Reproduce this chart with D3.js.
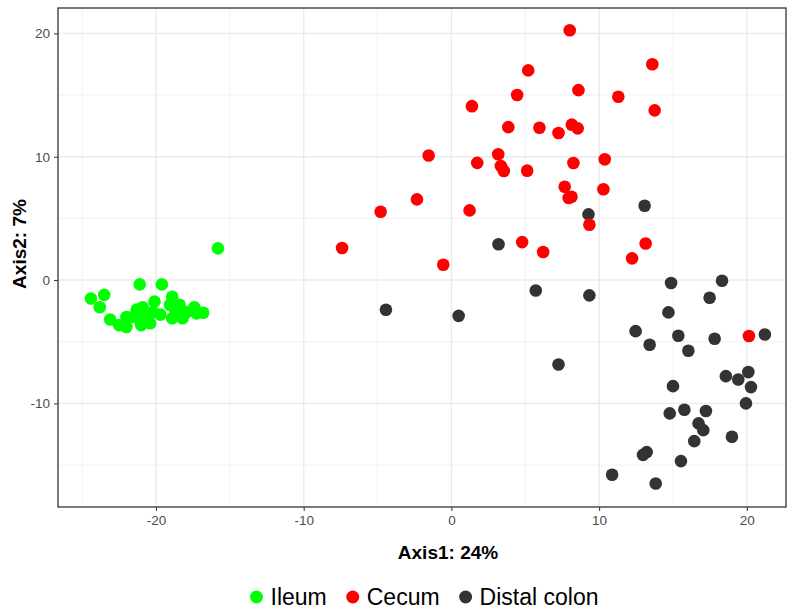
<!DOCTYPE html>
<html>
<head>
<meta charset="utf-8">
<script src="https://cdn.jsdelivr.net/npm/d3@7"></script>
<style>
  html, body { margin: 0; padding: 0; background: #fff; }
  svg { display: block; font-family: "Liberation Sans", Arial, sans-serif; }
</style>
</head>
<body>
<svg id="chart" width="788" height="611"></svg>
<script>
// PCoA scores: [Axis1, Axis2]
const ileum = [
  [-15.8, 2.57], [-21.1, -0.35], [-19.6, -0.35], [-24.4, -1.5], [-23.5, -1.2],
  [-23.8, -2.2], [-23.1, -3.2], [-22.5, -3.65], [-22.0, -3.8], [-22.0, -3.0],
  [-21.3, -2.4], [-21.1, -3.2], [-20.6, -3.0], [-20.4, -3.5], [-20.1, -1.75],
  [-20.2, -2.6], [-19.7, -2.8], [-18.9, -1.35], [-19.05, -2.0], [-18.7, -2.4],
  [-18.9, -3.1], [-18.4, -2.0], [-18.2, -3.1], [-17.9, -2.6], [-17.4, -2.2],
  [-17.25, -2.7], [-16.8, -2.65], [-20.9, -2.2], [-21.6, -3.0], [-21.0, -3.65]
];
const cecum = [
  [8.01, 20.25], [13.6, 17.5], [5.2, 17.0], [8.6, 15.4], [4.45, 15.0],
  [11.3, 14.87], [1.39, 14.1], [13.76, 13.76], [3.85, 12.4], [5.96, 12.35],
  [7.25, 11.92], [8.15, 12.6], [8.55, 12.3], [-1.54, 10.1], [3.17, 10.2],
  [10.38, 9.79], [1.75, 9.5], [8.26, 9.49], [3.35, 9.25], [3.55, 8.85],
  [5.13, 8.87], [7.67, 7.57], [7.94, 6.65], [8.13, 6.76], [10.29, 7.36],
  [-2.33, 6.54], [-4.79, 5.54], [1.23, 5.65], [9.34, 4.49], [4.79, 3.08],
  [13.15, 2.97], [-7.4, 2.6], [6.21, 2.27], [12.23, 1.76], [-0.55, 1.24],
  [20.14, -4.54]
];
const distalColon = [
  [3.19, 2.9], [5.71, -0.84], [9.28, 5.33], [13.08, 6.03], [14.87, -0.24],
  [18.32, -0.05], [9.34, -1.24], [17.48, -1.43], [14.69, -2.62], [12.47, -4.14],
  [15.36, -4.51], [13.42, -5.24], [17.82, -4.76], [21.22, -4.41], [16.04, -5.73],
  [7.25, -6.84], [18.58, -7.79], [19.42, -8.06], [20.1, -7.46], [20.28, -8.68],
  [15.0, -8.6], [19.94, -10.0], [14.78, -10.81], [15.77, -10.52], [17.23, -10.62],
  [16.73, -11.62], [17.05, -12.17], [18.99, -12.7], [16.44, -13.06], [13.22, -13.95],
  [12.97, -14.17], [15.54, -14.68], [10.88, -15.79], [13.83, -16.49], [-4.43, -2.41],
  [0.49, -2.9]
];

const groups = ['Ileum', 'Cecum', 'Distal colon'];
const groupColors = ['#00ff00', '#ff0000', '#333333'];
const xTicks = [-20, -10, 0, 10, 20];
const yTicks = [-10, 0, 10, 20];
const xMinor = [-25, -15, -5, 5, 15];
const yMinor = [-15, -5, 5, 15];
const xTitle = 'Axis1: 24%';
const yTitle = 'Axis2: 7%';

const svg = d3.select('#chart');
const panel = { left: 58, right: 786, top: 8, bottom: 507 };

const x = d3.scaleLinear().domain([-26.63, 22.65]).range([panel.left, panel.right]);
const y = d3.scaleLinear().domain([-18.4, 22.06]).range([panel.bottom, panel.top]);

// grid: minor lines halfway between majors, then majors
const grid = svg.append('g');
function vlines(vals, cls, color, w) {
  grid.selectAll('line.' + cls).data(vals).join('line')
    .attr('class', cls)
    .attr('x1', d => x(d)).attr('x2', d => x(d))
    .attr('y1', panel.top).attr('y2', panel.bottom)
    .attr('stroke', color).attr('stroke-width', w);
}
function hlines(vals, cls, color, w) {
  grid.selectAll('line.' + cls).data(vals).join('line')
    .attr('class', cls)
    .attr('y1', d => y(d)).attr('y2', d => y(d))
    .attr('x1', panel.left).attr('x2', panel.right)
    .attr('stroke', color).attr('stroke-width', w);
}
vlines(xMinor, 'xmin', '#f2f2f2', 1);
hlines(yMinor, 'ymin', '#f2f2f2', 1);
vlines(xTicks, 'xmaj', '#ebebeb', 1.5);
hlines(yTicks, 'ymaj', '#ebebeb', 1.5);

// points, distal colon first so the other groups sit on top
const series = [
  { color: groupColors[2], pts: distalColon },
  { color: groupColors[1], pts: cecum },
  { color: groupColors[0], pts: ileum }
];
series.forEach(s => {
  svg.append('g').selectAll('circle').data(s.pts).join('circle')
    .attr('cx', d => x(d[0]))
    .attr('cy', d => y(d[1]))
    .attr('r', 6.3)
    .attr('fill', s.color);
});

// panel border
svg.append('rect')
  .attr('x', panel.left).attr('y', panel.top)
  .attr('width', panel.right - panel.left).attr('height', panel.bottom - panel.top)
  .attr('fill', 'none').attr('stroke', '#333333').attr('stroke-width', 1.3);

// axes (plain hyphen minus like the reference)
const fmt = d => String(d);
const xAxis = svg.append('g')
  .attr('transform', 'translate(0,' + panel.bottom + ')')
  .call(d3.axisBottom(x).tickValues(xTicks).tickFormat(fmt).tickSize(4).tickPadding(4).tickSizeOuter(0));
const yAxis = svg.append('g')
  .attr('transform', 'translate(' + panel.left + ',0)')
  .call(d3.axisLeft(y).tickValues(yTicks).tickFormat(fmt).tickSize(4).tickPadding(4).tickSizeOuter(0));
[xAxis, yAxis].forEach(a => {
  a.select('.domain').remove();
  a.selectAll('.tick line').attr('stroke', '#333333');
  a.selectAll('.tick text')
    .attr('fill', '#4d4d4d')
    .style('font-family', '"Liberation Sans", Arial, sans-serif')
    .style('font-size', '13.5px');
});

// axis titles
svg.append('text')
  .attr('x', 448).attr('y', 559)
  .attr('text-anchor', 'middle')
  .style('font-size', '19px').style('font-weight', 'bold')
  .text(xTitle);
svg.append('text')
  .attr('transform', 'translate(26,244) rotate(-90)')
  .attr('text-anchor', 'middle')
  .style('font-size', '19px').style('font-weight', 'bold')
  .text(yTitle);

// legend at the bottom
const legend = svg.append('g');
let cx = 0;
groups.forEach((g, i) => {
  const item = legend.append('g').attr('transform', 'translate(' + cx + ',0)');
  item.append('circle').attr('cx', 7).attr('cy', 0).attr('r', 6.5).attr('fill', groupColors[i]);
  const t = item.append('text')
    .attr('x', 21).attr('y', 8)
    .style('font-size', '23px')
    .text(g);
  cx += 21 + t.node().getComputedTextLength() + 19;
});
const legendW = cx - 19;
legend.attr('transform', 'translate(' + (424 - legendW / 2) + ',597)');
</script>
</body>
</html>
